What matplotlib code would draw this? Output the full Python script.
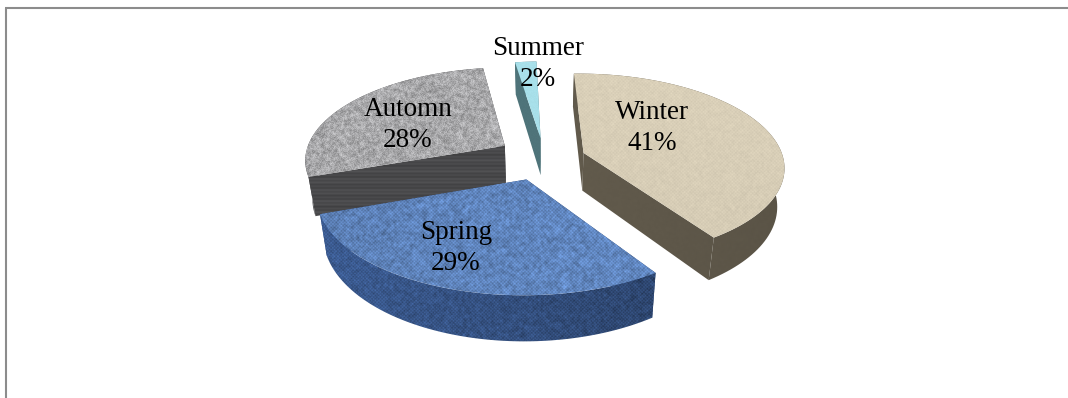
import numpy as np
import matplotlib
matplotlib.use('Agg')
import matplotlib.pyplot as plt
from matplotlib.patches import Polygon

# share of each season, clockwise from the top of the pie
seasons = ['Winter', 'Spring', 'Automn', 'Summer']
percent = [41, 29, 28, 2]

WIDTH, HEIGHT = 1068, 398

# pie projection, all in pixels
center_x, center_y = 540, 155
radius_x, radius_y = 200, 92
perspective = 0.14
thickness = 38
converge = 0.97
start_angle = -1.5
explode = {'Winter': 0.22, 'Spring': 0.27, 'Automn': 0.22, 'Summer': 0.2}
nudge = {'Winter': (2, 4), 'Spring': (4, 0), 'Automn': (2, 1), 'Summer': (4, 1)}
label_pos = {'Winter': (652, 128), 'Spring': (456, 248), 'Automn': (408, 125), 'Summer': (538, 64)}

yy, xx = np.mgrid[0:HEIGHT, 0:WIDTH].astype(float)


def speckle(scale=1.0, offset=0.0):
    # cheap hash noise, used only for the surface textures
    n = np.sin((xx // scale) * 12.9898 + (yy // scale) * 78.233 + offset) * 43758.5453
    return n - np.floor(n) - 0.5


def smooth(a, size=3):
    out = np.zeros_like(a)
    for dx in range(-(size // 2), size // 2 + 1):
        for dy in range(-(size // 2), size // 2 + 1):
            out += np.roll(np.roll(a, dx, axis=1), dy, axis=0)
    return out / size ** 2


def paint(base, shade):
    rgb = np.asarray(matplotlib.colors.to_rgb(base))
    return np.clip(rgb[None, None, :] * (1 + shade[:, :, None]), 0, 1)


def weave(amount, grain, period=3.4, offset=0.0):
    cloth = np.sin(xx * 2 * np.pi / period) * np.sin(yy * 2 * np.pi / period)
    return amount * cloth + grain * smooth(speckle(offset=offset), 3) * 2


def top_texture(name):
    if name == 'Winter':
        return paint('#d8ceb7', weave(0.022, 0.05, offset=1.0) - (yy - 150) / 150 * 0.02)
    if name == 'Spring':
        patch = smooth(speckle(2.0, 2.0), 3) * 0.3
        return paint('#5f84bc', weave(0.1, 0.16, offset=2.0) + patch + (xx - 480) / 300 * 0.05)
    if name == 'Automn':
        blotch = smooth(speckle(2.0, 3.0), 3)
        return paint('#a9a9ab', 0.34 * blotch + 0.2 * speckle(offset=3.5))
    return paint('#a8e0ea', 0.02 * speckle(offset=4.0))


def wall_texture(name):
    if name == 'Winter':
        return paint('#5f584a', 0.05 * smooth(speckle(offset=5.0), 3) - (xx - 650) / 140 * 0.05)
    if name == 'Spring':
        darken = (xx - 330) / 320 * 0.22 + 0.04
        return paint('#3e5f97', weave(0.1, 0.24, offset=6.0) - darken)
    if name == 'Automn':
        streaks = np.sin(yy * 1.7) * 0.07 + np.sin(yy * 0.6) * 0.05
        return paint('#49494b', streaks)
    return paint('#4f747a', 0.02 * speckle(offset=7.0))


def project(x, y, level, name, mid):
    # unit pie coordinates to screen pixels, y pointing away from the viewer
    e = explode[name]
    x = x + e * np.sin(mid)
    y = y + e * np.cos(mid)
    w = 1 + perspective * y
    squeeze = converge if level else 1.0
    px = center_x + squeeze * radius_x * x / w + nudge[name][0]
    py = center_y - radius_y * y / w + thickness * level / w + nudge[name][1]
    return px, py


fig = plt.figure(figsize=(WIDTH / 100, HEIGHT / 100), dpi=100)
ax = fig.add_axes([0, 0, 1, 1])
ax.set_xlim(0, WIDTH)
ax.set_ylim(HEIGHT, 0)
ax.axis('off')

# slices as cumulative angles
angles = {}
a = np.radians(start_angle)
for name, p in zip(seasons, percent):
    angles[name] = (a, a + p / sum(percent) * 2 * np.pi)
    a = angles[name][1]


def clipped(image, vertices, zorder):
    im = ax.imshow(image, extent=(0, WIDTH, HEIGHT, 0), interpolation='bilinear', zorder=zorder, aspect='auto')
    patch = Polygon(vertices, closed=True, transform=ax.transData, facecolor='none', edgecolor='none')
    ax.add_patch(patch)
    im.set_clip_path(patch)


# back slices first so the front ones overlap them
for order, name in enumerate(['Automn', 'Summer', 'Winter', 'Spring']):
    a0, a1 = angles[name]
    mid = (a0 + a1) / 2
    t = np.linspace(a0, a1, 90)
    sx, cy = np.sin(t), np.cos(t)
    top = np.column_stack(project(sx, cy, 0, name, mid))
    bottom = np.column_stack(project(sx, cy, 1, name, mid))
    apex_top = np.array(project(0.0, 0.0, 0, name, mid))
    apex_bottom = np.array(project(0.0, 0.0, 1, name, mid))

    wall = wall_texture(name)
    z = 2 + order * 2
    clipped(wall, np.vstack([top, bottom[::-1]]), z)
    clipped(wall, np.vstack([apex_top, top[0], bottom[0], apex_bottom]), z)
    clipped(wall, np.vstack([apex_top, top[-1], bottom[-1], apex_bottom]), z)
    clipped(top_texture(name), np.vstack([apex_top, top]), z + 1)

for name, p in zip(seasons, percent):
    x, y = label_pos[name]
    ax.text(x, y, '{}\n{}%'.format(name, p), family='Liberation Serif', fontsize=19.5, color='black',
            ha='center', va='center', linespacing=1.36, zorder=20)

# frame only on the top and left edges
ax.plot([6, 6], [HEIGHT, 8], color='#8c8c8c', lw=1.5, solid_capstyle='butt', zorder=30)
ax.plot([5, WIDTH], [8, 8], color='#8c8c8c', lw=1.5, solid_capstyle='butt', zorder=30)

fig.savefig('out.png', dpi=100)
